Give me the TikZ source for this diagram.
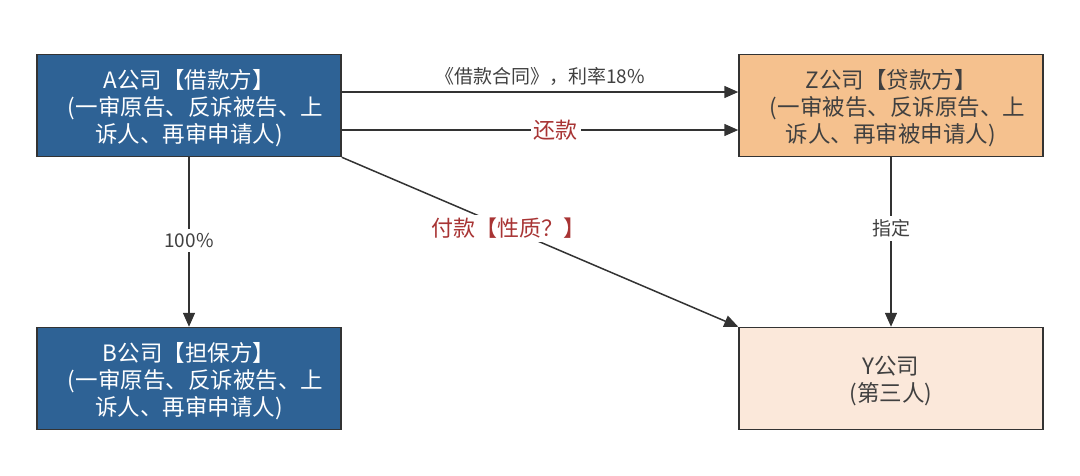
\documentclass[tikz,border=0pt]{standalone}
\usepackage{fontspec}
\setmainfont{Noto Sans CJK SC}
\usetikzlibrary{arrows.meta,positioning}
\definecolor{lenderblue}{HTML}{2E6295}
\definecolor{loanorange}{HTML}{F5C18E}
\definecolor{thirdpale}{HTML}{FBE8DA}
\definecolor{linegray}{HTML}{333333}
\definecolor{txtgray}{HTML}{404040}
\definecolor{notered}{HTML}{A83434}
\newcommand{\lead}{\hspace*{13pt}}

\begin{document}
\begin{tikzpicture}[x=1pt,y=1pt,node distance=273pt and 702pt,on grid,
    >={Triangle[length=14pt,width=12pt]},
    party/.style={draw=linegray,line width=1.5pt,minimum width=304pt,minimum height=102pt,
      align=center,inner sep=0pt,text depth=-3pt,font=\fontsize{22.5}{27}\selectfont},
    link/.style={->,draw=linegray,line width=1.5pt},
    note/.style={fill=white,text=txtgray,inner sep=4pt,font=\fontsize{19}{22}\selectfont},
    rednote/.style={fill=white,text=notered,inner sep=3pt,font=\fontsize{22}{24}\selectfont}]
   \useasboundingbox (0,0) rectangle (1080,-475);
   \node [party,fill=lenderblue,text=white] (A) at (189,-105.5)
     {A公司【借款方】\\\lead(一审原告、反诉被告、上\\诉人、再审申请人)};
   \node [party,fill=loanorange,text=txtgray] (Z) [right=of A]
     {Z公司【贷款方】\\\lead(一审被告、反诉原告、上\\诉人、再审被申请人)};
   \node [party,fill=lenderblue,text=white] (B) [below=of A]
     {B公司【担保方】\\\lead(一审原告、反诉被告、上\\诉人、再审申请人)};
   \node [party,fill=thirdpale,text=txtgray] (Y) [below=of Z]
     {Y公司\\(第三人)};
    \draw[link] ([yshift=13.5pt]A.east) -- node[note,fill=none,above=2pt] {《借款合同》，利率18\%} ([yshift=13.5pt]Z.west);
    \draw[link] ([yshift=-24.5pt]A.east) -- node[rednote,pos=0.54] {还款} ([yshift=-24.5pt]Z.west);
    \draw[link] (A.south east) -- node[rednote,pos=0.42] {付款【性质？】} (Y.north west);
    \draw[link] (A) -- node[note,pos=0.49] {100\%} (B);
    \draw[link] (Z) -- node[note,pos=0.42] {指定} (Y);
\end{tikzpicture}
\end{document}
